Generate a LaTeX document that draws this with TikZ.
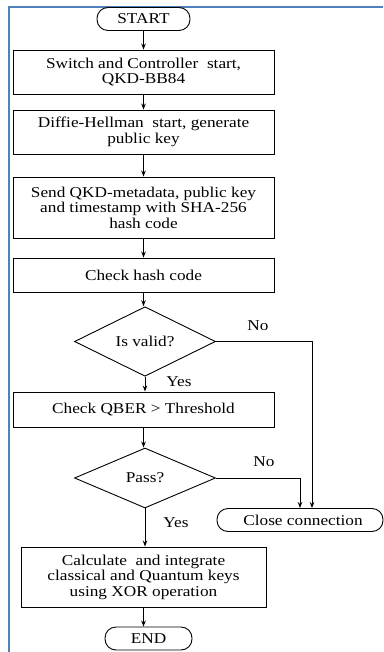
\documentclass[tikz,border=0pt]{standalone}
\usepackage{fontspec}
\setmainfont{Liberation Serif}[FakeStretch=1.15]
\usepackage{tikz}
\usetikzlibrary{arrows.meta,positioning,shapes.geometric}
\definecolor{frameblue}{RGB}{79,129,189}

\begin{document}
\begin{tikzpicture}[x=1pt,y=-1pt,font=\fontsize{15}{15.5}\selectfont,
    stepbox/.style={draw,line width=0.9pt,align=center,minimum width=261pt,inner sep=2pt},
    terminal/.style={draw,line width=0.9pt,rounded corners=11pt,minimum height=23pt,inner sep=2pt},
    decision/.style={draw,line width=0.9pt,diamond,minimum width=141pt,minimum height=59pt,inner sep=0pt},
    flow/.style={line width=0.9pt,-{Stealth[length=6pt,width=4.5pt]}}]
    \useasboundingbox (0,0) rectangle (383,652);
    \draw[frameblue,line width=1.8pt] (383,7) -- (9,7) -- (9,652);

    \node[terminal,minimum width=93pt] (start) at (143.5,19) {START};
    \node[stepbox,minimum height=44pt] (init) at (143.5,72) {Switch and Controller~ start,\\QKD-BB84};
    \node[stepbox,minimum height=44pt] (dh) at (143.5,132) {Diffie-Hellman~ start, generate\\public key};
    \node[stepbox,minimum height=61pt] (send) at (143.5,207.5) {Send QKD-metadata, public key\\and timestamp with SHA-256\\hash code};
    \node[stepbox,minimum height=34pt] (hash) at (143.5,275) {Check hash code};
    \node[decision] (valid) at (145,341.5) {Is valid?};
    \node[stepbox,minimum height=35pt] (qber) at (143.5,409.5) {Check QBER > Threshold};
    \node[decision,minimum height=60pt] (pass) at (145,478) {Pass?};
    \node[terminal,minimum width=166pt] (close) at (300,520) {\hspace{6pt}Close connection};
    \node[stepbox,minimum width=245pt,minimum height=60pt] (xor) at (143.5,577) {Calculate~ and integrate\\classical and Quantum keys\\using XOR operation};
    \node[terminal,minimum width=87pt] (end) at (148.5,638.5) {END};
    \coordinate (closein) at ([xshift=12pt]close.north);

    \draw[flow] (start) -- (init);
    \draw[flow] (init) -- (dh);
    \draw[flow] (dh) -- (send);
    \draw[flow] (send) -- (hash);
    \draw[flow] (hash.south) -- (hash.south |- valid.north);
    \draw[flow] (valid.south) -- (valid.south |- qber.north);
    \draw[flow] (qber.south) -- (qber.south |- pass.north);
    \draw[flow] (pass.south) -- (pass.south |- xor.north);
    \draw[flow] (xor.south) -- (xor.south |- end.north);
    \draw[flow] (valid.east) -| (closein);
    \draw[flow] (pass.east) -| (close.north);

    \node (novalid) at (258,326) {No};
    \node (yesvalid) at (179,382) {Yes};
    \node (nopass) at (264,462) {No};
    \node (yespass) at (176,523) {Yes};
\end{tikzpicture}
\end{document}
